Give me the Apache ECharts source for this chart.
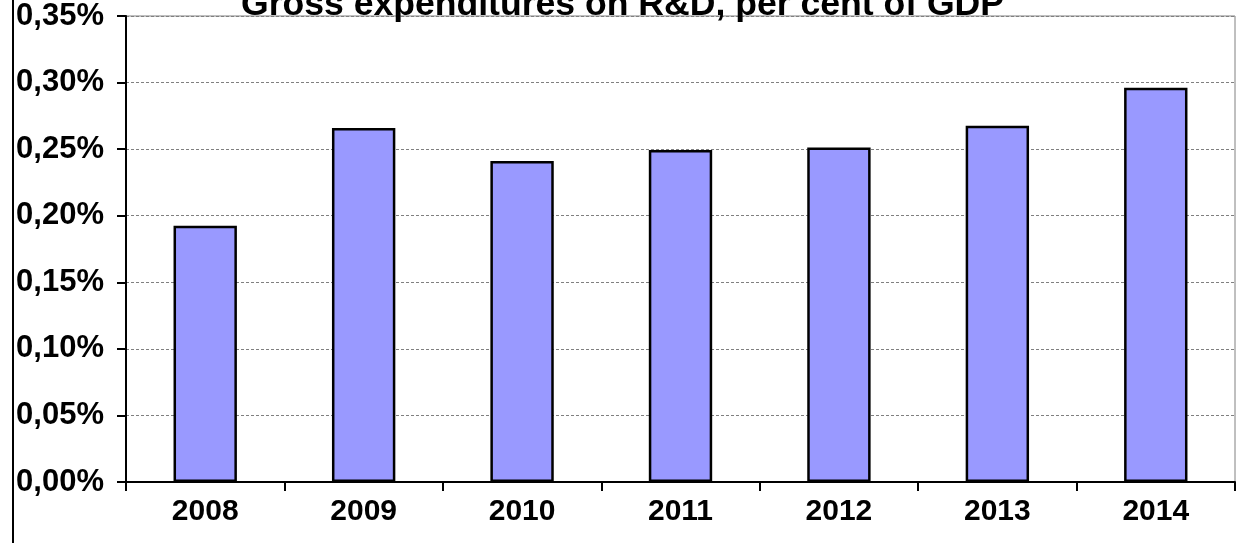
<!DOCTYPE html>
<html>
<head>
<meta charset="utf-8">
<script src="https://cdn.jsdelivr.net/npm/echarts@6/dist/echarts.min.js"></script>
<style>html,body{margin:0;padding:0;background:#fff}#c{width:1245px;height:543px}</style>
</head>
<body>
<div id="c"></div>
<script>
const titleText = 'Gross expenditures on R&D, per cent of GDP';
const categories = ['2008', '2009', '2010', '2011', '2012', '2013', '2014'];
const values = [0.1925, 0.2659, 0.2411, 0.2494, 0.2512, 0.2676, 0.2961];
const yTicks = [0, 0.05, 0.10, 0.15, 0.20, 0.25, 0.30, 0.35];

const chart = echarts.init(document.getElementById('c'), null, {renderer: 'canvas'});
const font = 'Liberation Sans, Arial, sans-serif';
chart.setOption({
  animation: false,
  title: {
    text: titleText,
    left: 'center',
    top: -18,
    textStyle: {fontFamily: font, fontWeight: 'bold', fontSize: 35.6, color: '#000'}
  },
  grid: {left: 126, right: 10, top: 16, bottom: 61, show: true, borderColor: '#808080', borderWidth: 1, containLabel: false},
  graphic: [{
    type: 'line', shape: {x1: 13, y1: 0, x2: 13, y2: 543},
    style: {stroke: '#000', lineWidth: 2}
  }],
  xAxis: {
    type: 'category',
    data: categories,
    boundaryGap: true,
    axisLine: {show: true, lineStyle: {color: '#000', width: 2}},
    axisTick: {show: true, alignWithLabel: false, length: 9, lineStyle: {color: '#000', width: 2}},
    axisLabel: {fontFamily: font, fontWeight: 'bold', fontSize: 30, color: '#000', margin: 15},
    splitLine: {show: false}
  },
  yAxis: {
    type: 'value',
    min: 0, max: 0.35, interval: 0.05,
    axisLine: {show: true, lineStyle: {color: '#000', width: 2}},
    axisTick: {show: true, length: 9, lineStyle: {color: '#000', width: 2}},
    axisLabel: {
      fontFamily: font, fontWeight: 'bold', fontSize: 31, color: '#000', margin: 22,
      formatter: v => {
        const t = yTicks.find(x => Math.abs(x - v) < 1e-9);
        return (t !== undefined ? t : v).toFixed(2).replace('.', ',') + '%';
      }
    },
    splitLine: {show: true, lineStyle: {color: '#808080', type: [3, 2], width: 1}}
  },
  series: [{
    type: 'bar',
    data: values,
    barWidth: '40%',
    itemStyle: {color: '#9999FF', borderColor: '#000', borderWidth: 2.5}
  }]
});
</script>
</body>
</html>
